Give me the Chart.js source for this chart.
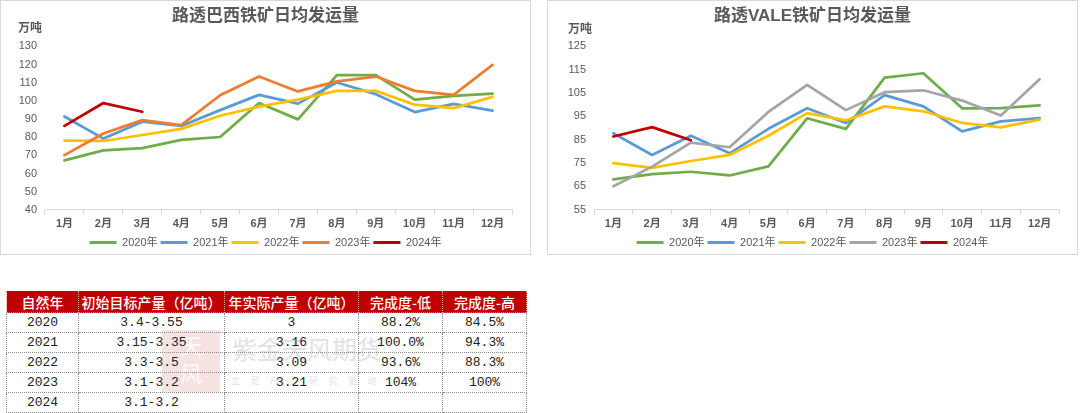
<!DOCTYPE html>
<html><head><meta charset="utf-8">
<script src="https://cdn.jsdelivr.net/npm/chart.js@4"></script>
<style>
html,body{margin:0;padding:0;background:#fff;width:1080px;height:413px;overflow:hidden;position:relative;font-family:'Liberation Sans','Noto Sans CJK SC',sans-serif;}
.panel{position:absolute;top:0;width:531px;height:255px;border:1px solid #d9d9d9;box-sizing:border-box;}
.panel canvas{position:absolute;left:0;top:0;}
.unit{position:absolute;font-size:12px;line-height:14px;font-weight:bold;color:#595959;font-family:'Noto Sans CJK SC',sans-serif;}
#tbl{position:absolute;left:6px;top:291px;width:520px;border-collapse:collapse;table-layout:fixed;z-index:2;}
#tbl th{background:#c00000;color:#fff;font-family:'Noto Sans CJK SC',sans-serif;font-weight:500;font-size:14px;height:21px;padding:0;border-left:1px dotted #e8a0a0;border-right:1px dotted #e8a0a0;line-height:20px;white-space:nowrap;}
#tbl td{font-family:'Liberation Mono',monospace;font-size:13px;color:#222;height:19px;padding:0;text-align:center;border:1px dotted #8c8c8c;line-height:18px;}
.wm{position:absolute;color:#e2e2e2;font-family:'Noto Sans CJK SC',sans-serif;white-space:nowrap;z-index:1;}
.seal{position:absolute;left:162px;top:330px;width:58px;height:62px;background:rgba(200,40,40,0.13);z-index:1;color:rgba(255,255,255,0.85);font-family:'Noto Sans CJK SC',sans-serif;font-size:22px;line-height:28px;text-align:center;}
</style></head>
<body>
<div class="panel" style="left:0"><canvas id="c1" width="529" height="257"></canvas><span class="unit" style="left:17px;top:19px">万吨</span></div>
<div class="panel" style="left:547px"><canvas id="c2" width="529" height="257"></canvas><span class="unit" style="left:20px;top:20px">万吨</span></div>

<div class="seal">天<br>风</div>
<div class="wm" style="left:232px;top:334px;font-size:25px;line-height:28px;">紫金天风期货</div>
<div class="wm" style="left:231px;top:375px;font-size:9px;line-height:12px;letter-spacing:10.5px;">立足产业研究驱动</div>
<table id="tbl"></table>

<script>
// ---- data ----
const months = ['1月','2月','3月','4月','5月','6月','7月','8月','9月','10月','11月','12月'];
const years = ['2020年','2021年','2022年','2023年','2024年'];

const brazil2020 = [67.2, 72.7, 74.0, 78.5, 80.1, 98.8, 89.8, 114.2, 114.2, 100.7, 102.7, 104.0];
const brazil2021 = [91.4, 79.2, 88.5, 86.2, 94.9, 103.3, 98.5, 110.1, 103.7, 93.8, 98.3, 94.6];
const brazil2022 = [78.1, 77.9, 81.2, 84.6, 91.8, 96.8, 100.7, 105.5, 105.5, 97.9, 96.0, 102.2];
const brazil2023 = [70.1, 82.0, 89.4, 86.6, 103.1, 113.4, 105.2, 110.7, 113.4, 105.5, 103.3, 119.8];
const brazil2024 = [86.2, 98.8, 94.0];

const vale2020 = [68.0, 70.3, 71.3, 69.7, 73.6, 94.2, 89.7, 111.6, 113.5, 98.5, 98.6, 99.7];
const vale2021 = [87.8, 78.5, 86.7, 79.2, 89.7, 98.5, 92.2, 104.1, 99.3, 88.6, 92.9, 94.3];
const vale2022 = [75.0, 73.0, 75.9, 78.5, 86.7, 96.4, 93.3, 99.3, 97.2, 92.2, 90.3, 93.6];
const vale2023 = [65.1, 73.5, 83.8, 81.8, 96.9, 108.5, 97.7, 105.4, 106.2, 101.8, 95.4, 110.9];
const vale2024 = [86.4, 90.4, 84.8];

const tableHeaders = ['自然年','初始目标产量（亿吨）','年实际产量（亿吨）','完成度-低','完成度-高'];
const tableYears = ['2020','2021','2022','2023','2024'];
const tableTargets = ['3.4-3.55','3.15-3.35','3.3-3.5','3.1-3.2','3.1-3.2'];
const tableActuals = ['3','3.16','3.09','3.21',''];
const tableRateLow = ['88.2%','100.0%','93.6%','104%',''];
const tableRateHigh = ['84.5%','94.3%','88.3%','100%',''];

// ---- charts ----
Chart.defaults.font.family = "'Liberation Sans','Noto Sans CJK SC',sans-serif";
Chart.defaults.color = '#595959';

function makeChart(id, title, seriesList, colors, yMin, yMax, yWidth) {
  const n = seriesList.length;
  const datasets = seriesList.map((d, i) => ({
    label: years[i], data: d, borderColor: colors[i], backgroundColor: colors[i],
    borderWidth: 2.75, pointRadius: 0, tension: 0, fill: false,
    borderJoinStyle: 'round', borderCapStyle: 'round', order: n - i
  }));
  new Chart(document.getElementById(id), {
    type: 'line',
    data: { labels: months, datasets },
    options: {
      responsive: false, animation: false, devicePixelRatio: 1,
      layout: { padding: 0 },
      plugins: {
        title: { display: true, text: title, color: '#595959', font: { size: 17, weight: 'bold' }, padding: { top: 5, bottom: 20 } },
        legend: {
          position: 'bottom',
          labels: {
            boxWidth: 27, boxHeight: 3, padding: 3, color: '#595959', font: { size: 11 },
            sort: (a, b) => a.datasetIndex - b.datasetIndex,
            generateLabels: (chart) => Chart.defaults.plugins.legend.labels.generateLabels(chart)
              .map(l => Object.assign(l, { lineWidth: 0, fillStyle: l.strokeStyle }))
          }
        },
        tooltip: { enabled: false }
      },
      scales: {
        x: {
          offset: true,
          grid: { display: true, offset: true, drawOnChartArea: false, drawTicks: true, tickLength: 5, color: '#d9d9d9' },
          border: { display: true, color: '#d9d9d9', width: 1 },
          ticks: { color: '#595959', font: { size: 11, weight: 'bold' }, padding: 3, maxRotation: 0, autoSkip: false }
        },
        y: {
          min: yMin, max: yMax,
          grid: { display: false, drawTicks: false },
          border: { display: false },
          ticks: { stepSize: 10, color: '#595959', font: { size: 11 }, padding: 8 },
          afterFit: s => { s.width = yWidth; }
        },
        yr: {
          position: 'right', display: true,
          grid: { display: false, drawTicks: false }, border: { display: false },
          ticks: { display: false },
          afterFit: s => { s.width = 18; }
        }
      }
    }
  });
}

makeChart('c1', '路透巴西铁矿日均发运量',
  [brazil2020, brazil2021, brazil2022, brazil2023, brazil2024],
  ['#70ad47', '#5b9bd5', '#ffc000', '#ed7d31', '#c00000'], 40, 130, 44);
makeChart('c2', '路透VALE铁矿日均发运量',
  [vale2020, vale2021, vale2022, vale2023, vale2024],
  ['#70ad47', '#5b9bd5', '#ffc000', '#a5a5a5', '#c00000'], 55, 125, 46);

// ---- table ----
const tbl = document.getElementById('tbl');
const colW = [72, 146, 134, 84, 84];
let html = '<colgroup>' + colW.map(w => '<col style="width:' + w + 'px">').join('') + '</colgroup>';
html += '<tr>' + tableHeaders.map(h => '<th>' + h + '</th>').join('') + '</tr>';
for (let i = 0; i < tableYears.length; i++) {
  html += '<tr><td>' + tableYears[i] + '</td><td>' + tableTargets[i] + '</td><td>' + tableActuals[i] +
    '</td><td>' + tableRateLow[i] + '</td><td>' + tableRateHigh[i] + '</td></tr>';
}
tbl.innerHTML = html;
</script>
</body></html>
